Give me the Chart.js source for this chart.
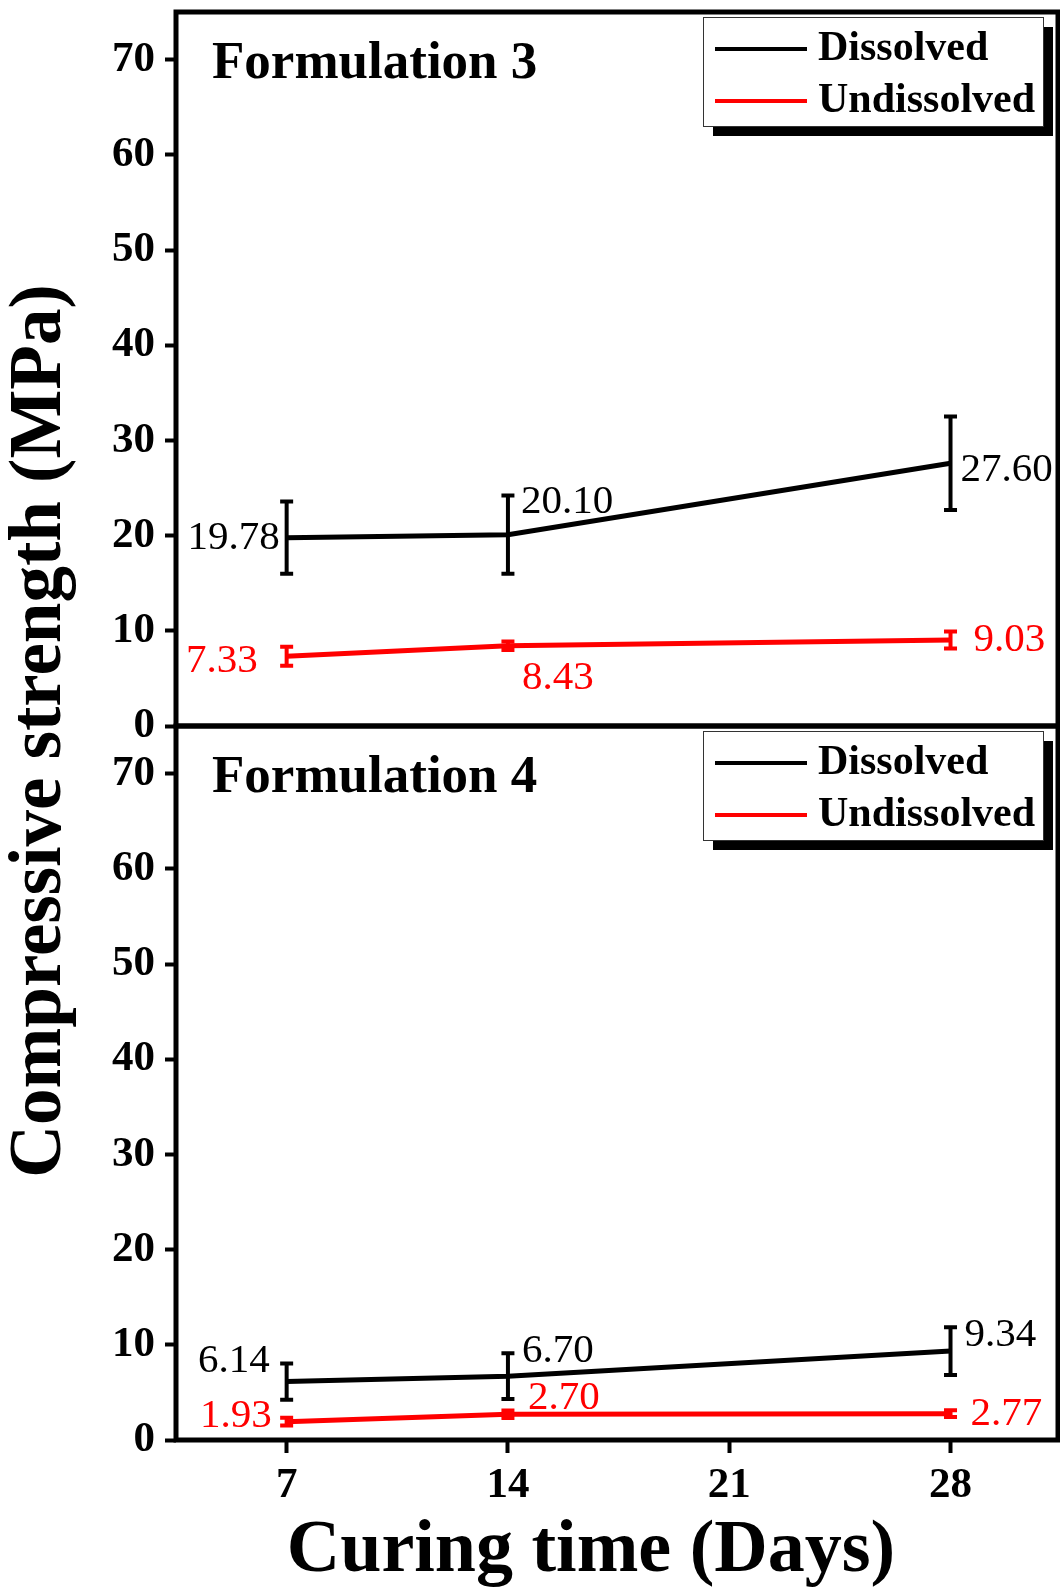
<!DOCTYPE html>
<html>
<head>
<meta charset="utf-8">
<script src="https://cdn.jsdelivr.net/npm/chart.js@4.4.1/dist/chart.umd.min.js"></script>
<style>
  html, body { margin: 0; padding: 0; background: #fff; }
</style>
</head>
<body>
<canvas id="strength" width="1060" height="1594"></canvas>
<script>
// curing ages (days) and axis ticks
const days = [7, 14, 28];
const dayTicks = [7, 14, 21, 28];
const strengthTicks = [0, 10, 20, 30, 40, 50, 60, 70];

const seriesNames = ['Dissolved', 'Undissolved'];
const seriesColors = ['#000000', '#ff0000'];
const panelTitles = ['Formulation 3', 'Formulation 4'];

// Formulation 3 (MPa)
const f3Dissolved = [19.78, 20.10, 27.60];
const f3DissolvedErr = [3.8, 4.1, 4.9];
const f3Undissolved = [7.33, 8.43, 9.03];
const f3UndissolvedErr = [1.0, 0.45, 0.9];

// Formulation 4 (MPa)
const f4Dissolved = [6.14, 6.70, 9.34];
const f4DissolvedErr = [1.9, 2.4, 2.5];
const f4Undissolved = [1.93, 2.70, 2.77];
const f4UndissolvedErr = [0.4, 0.4, 0.35];

// value label placement next to each point: dx, dy, alignment
const f3DissolvedLbl = [[-7, 1, 'right'], [13, -32, 'left'], [10, 7, 'left']];
const f3UndissolvedLbl = [[-29, 5, 'right'], [14, 32, 'left'], [23, 0, 'left']];
const f4DissolvedLbl = [[-17, -20, 'right'], [14, -25, 'left'], [14, -16, 'left']];
const f4UndissolvedLbl = [[-15, -5, 'right'], [20, -16, 'left'], [20, 1, 'left']];

const SERIF = '"Liberation Serif", "Times New Roman", serif';
Chart.defaults.font.family = SERIF;
Chart.defaults.color = '#000';

function series(label, values, errs, color, axis, lbl) {
  return {
    label: label,
    data: values.map((v, i) => ({ x: days[i], y: v })),
    errors: errs,
    labelPos: lbl,
    yAxisID: axis,
    borderColor: color,
    backgroundColor: color,
    borderWidth: 5,
    pointRadius: 0,
    tension: 0,
    clip: false
  };
}

const datasets = [
  series(seriesNames[0], f3Dissolved, f3DissolvedErr, seriesColors[0], 'yTop', f3DissolvedLbl),
  series(seriesNames[1], f3Undissolved, f3UndissolvedErr, seriesColors[1], 'yTop', f3UndissolvedLbl),
  series(seriesNames[0], f4Dissolved, f4DissolvedErr, seriesColors[0], 'yBot', f4DissolvedLbl),
  series(seriesNames[1], f4Undissolved, f4UndissolvedErr, seriesColors[1], 'yBot', f4UndissolvedLbl)
];

function yAxis() {
  return {
    type: 'linear',
    position: 'left',
    stack: 'panels',
    stackWeight: 1,
    min: 0,
    max: 75,
    afterBuildTicks: s => { s.ticks = strengthTicks.map(v => ({ value: v })); },
    afterFit: s => { s.width = 176; s.paddingTop = 0; s.paddingBottom = 0; },
    ticks: { font: { size: 43, weight: 'bold' }, padding: 10, callback: v => String(v) },
    grid: { display: true, drawOnChartArea: false, drawTicks: true, tickLength: 11, tickWidth: 4, tickColor: '#000' },
    border: { display: false }
  };
}

// error bars, value labels, frames, legends and axis titles
const panelDecor = {
  id: 'panelDecor',
  afterDatasetsDraw(chart) {
    const ctx = chart.ctx;
    const xs = chart.scales.x;
    chart.data.datasets.forEach(ds => {
      const ys = chart.scales[ds.yAxisID];
      ctx.save();
      ctx.strokeStyle = ds.borderColor;
      ctx.fillStyle = ds.borderColor;
      ds.data.forEach((p, i) => {
        const px = xs.getPixelForValue(p.x);
        const top = ys.getPixelForValue(p.y + ds.errors[i]);
        const bot = ys.getPixelForValue(p.y - ds.errors[i]);
        ctx.lineWidth = 4;
        ctx.beginPath();
        ctx.moveTo(px, top); ctx.lineTo(px, bot);
        ctx.moveTo(px - 6.5, top); ctx.lineTo(px + 6.5, top);
        ctx.moveTo(px - 6.5, bot); ctx.lineTo(px + 6.5, bot);
        ctx.stroke();
      });
      ctx.font = '41px ' + SERIF;
      ctx.textBaseline = 'middle';
      ds.data.forEach((p, i) => {
        const [dx, dy, al] = ds.labelPos[i];
        ctx.textAlign = al;
        ctx.fillText(p.y.toFixed(2), xs.getPixelForValue(p.x) + dx, ys.getPixelForValue(p.y) + dy);
      });
      ctx.restore();
    });
  },
  afterDraw(chart) {
    const ctx = chart.ctx;
    const area = chart.chartArea;
    const panels = [chart.scales.yTop, chart.scales.yBot];
    ctx.save();
    panels.forEach((ys, k) => {
      // frame
      ctx.strokeStyle = '#000';
      ctx.lineWidth = 5;
      ctx.strokeRect(area.left, ys.top, area.right - area.left, ys.bottom - ys.top);

      // panel title
      ctx.fillStyle = '#000';
      ctx.font = 'bold 53px ' + SERIF;
      ctx.textAlign = 'left';
      ctx.textBaseline = 'alphabetic';
      ctx.fillText(panelTitles[k], area.left + 36, ys.top + 66);

      // legend box with drop shadow
      const bx = area.right - 355, by = ys.top + 5, bw = 340, bh = 109;
      ctx.fillStyle = '#000';
      ctx.fillRect(bx + 10, by + 10, bw, bh);
      ctx.fillStyle = '#fff';
      ctx.fillRect(bx, by, bw, bh);
      ctx.lineWidth = 1;
      ctx.strokeStyle = '#333';
      ctx.strokeRect(bx + 0.5, by + 0.5, bw, bh);
      seriesNames.forEach((name, j) => {
        const ly = by + 32 + j * 52;
        ctx.strokeStyle = seriesColors[j];
        ctx.lineWidth = 4;
        ctx.beginPath();
        ctx.moveTo(bx + 12, ly); ctx.lineTo(bx + 104, ly);
        ctx.stroke();
        ctx.fillStyle = '#000';
        ctx.font = 'bold 42px ' + SERIF;
        ctx.textBaseline = 'middle';
        ctx.fillText(name, bx + 115, ly);
      });
    });

    // axis titles
    ctx.fillStyle = '#000';
    ctx.font = 'bold 74px ' + SERIF;
    ctx.textAlign = 'center';
    ctx.textBaseline = 'middle';
    ctx.fillText('Curing time (Days)', 591, 1552);
    ctx.translate(41, 731);
    ctx.rotate(-Math.PI / 2);
    ctx.font = 'bold 73px ' + SERIF;
    ctx.fillText('Compressive strength (MPa)', 0, 0);
    ctx.restore();
  }
};

new Chart(document.getElementById('strength'), {
  type: 'line',
  data: { datasets: datasets },
  options: {
    responsive: false,
    animation: false,
    layout: { padding: { top: 12, right: 2, left: 0, bottom: 0 } },
    plugins: { legend: { display: false }, tooltip: { enabled: false } },
    scales: {
      x: {
        type: 'linear',
        min: 3.5,
        max: 31.4,
        afterBuildTicks: s => { s.ticks = dayTicks.map(v => ({ value: v })); },
        afterFit: s => { s.height = 154; s.paddingLeft = 0; s.paddingRight = 0; },
        ticks: { font: { size: 43, weight: 'bold' }, padding: 7, callback: v => String(v) },
        grid: { display: true, drawOnChartArea: false, drawTicks: true, tickLength: 13, tickWidth: 4, tickColor: '#000' },
        border: { display: false }
      },
      // the lower panel is listed first so the stack places it at the bottom
      yBot: yAxis(),
      yTop: yAxis()
    }
  },
  plugins: [panelDecor]
});
</script>
</body>
</html>
